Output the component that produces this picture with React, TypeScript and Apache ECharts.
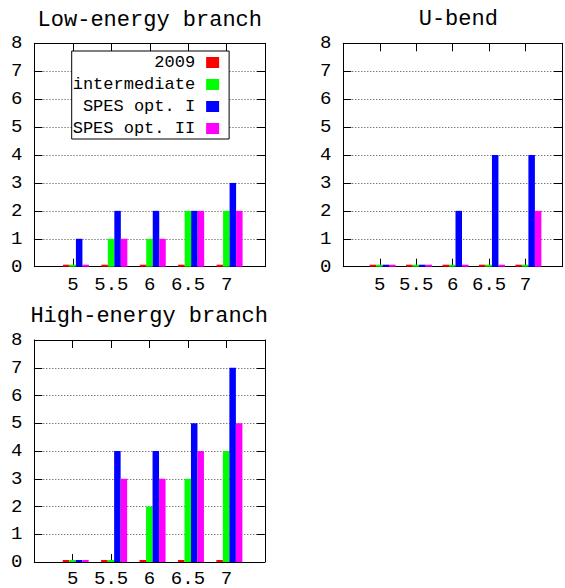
import React, { useEffect, useRef } from 'react';
import * as echarts from 'echarts';

// ---- data ----
const categories = ['5', '5.5', '6', '6.5', '7'];
const seriesNames = ['2009', 'intermediate', 'SPES opt. I', 'SPES opt. II'];
const seriesColors = ['#ff0000', '#00ff00', '#0000ff', '#ff00ff'];
const panelTitles = ['Low-energy branch', 'U-bend', 'High-energy branch'];

const lowEnergy2009 = [0, 0, 0, 0, 0];
const lowEnergyIntermediate = [0, 1, 1, 2, 2];
const lowEnergySpesI = [1, 2, 2, 2, 3];
const lowEnergySpesII = [0, 1, 1, 2, 2];

const uBend2009 = [0, 0, 0, 0, 0];
const uBendIntermediate = [0, 0, 0, 0, 0];
const uBendSpesI = [0, 0, 2, 4, 4];
const uBendSpesII = [0, 0, 0, 0, 2];

const highEnergy2009 = [0, 0, 0, 0, 0];
const highEnergyIntermediate = [0, 0, 2, 3, 4];
const highEnergySpesI = [0, 4, 4, 5, 7];
const highEnergySpesII = [0, 3, 3, 4, 5];

// ---- layout ----
const FONT = 'Liberation Mono';
const PLOT_W = 230.5;
const PLOT_H = 223.4;
const BAR_SHIFT = 0.078;

const panels = [
  {
    title: panelTitles[0],
    values: [lowEnergy2009, lowEnergyIntermediate, lowEnergySpesI, lowEnergySpesII],
    left: 34.5, top: 43.3, titleX: 149.8, titleY: 20.3, labelMargin: 9,
  },
  {
    title: panelTitles[1],
    values: [uBend2009, uBendIntermediate, uBendSpesI, uBendSpesII],
    left: 343.3, top: 43.3, titleX: 458.3, titleY: 19.5, labelMargin: 9,
  },
  {
    title: panelTitles[2],
    values: [highEnergy2009, highEnergyIntermediate, highEnergySpesI, highEnergySpesII],
    left: 34.3, top: 340, titleX: 149.2, titleY: 316.3, labelMargin: 7,
  },
];

const blackLine = { color: '#000', width: 1 };

function buildOption() {
  const grid = panels.map((p) => ({ left: p.left, top: p.top, width: PLOT_W, height: PLOT_H }));

  const xAxis = panels.flatMap((p, k) => [
    {
      gridIndex: k, type: 'value', position: 'bottom', min: -1, max: 5, interval: 1,
      axisLine: { show: true, onZero: false, lineStyle: blackLine },
      axisTick: { show: true, inside: true, length: 8, lineStyle: blackLine },
      axisLabel: {
        show: true, margin: p.labelMargin, fontFamily: FONT, fontSize: 19, color: '#000',
        formatter: (v: number) => categories[Math.round(v)] ?? '',
      },
      splitLine: { show: false },
    },
    {
      gridIndex: k, type: 'value', position: 'top', min: -1, max: 5, interval: 1,
      axisLine: { show: true, onZero: false, lineStyle: blackLine },
      axisTick: { show: true, inside: true, length: 8, lineStyle: blackLine },
      axisLabel: { show: false },
      splitLine: { show: false },
    },
    {
      gridIndex: k, type: 'value', min: -1 - BAR_SHIFT, max: 5 - BAR_SHIFT, show: false,
      splitLine: { show: false },
    },
  ]);

  const yAxis = panels.flatMap((p, k) => [
    {
      gridIndex: k, type: 'value', position: 'left', min: 0, max: 8, interval: 1,
      axisLine: { show: true, onZero: false, lineStyle: blackLine },
      axisTick: { show: true, inside: true, length: 8, lineStyle: blackLine },
      axisLabel: { margin: 12, fontFamily: FONT, fontSize: 19, color: '#000' },
      splitLine: { show: true, lineStyle: { type: [1, 2], color: '#444', width: 1 } },
    },
    {
      gridIndex: k, type: 'value', position: 'right', min: 0, max: 8, interval: 1,
      axisLine: { show: true, onZero: false, lineStyle: blackLine },
      axisTick: { show: true, inside: true, length: 8, lineStyle: blackLine },
      axisLabel: { show: false },
      splitLine: { show: false },
    },
  ]);

  const series = panels.flatMap((p, k) =>
    seriesNames.map((name, s) => ({
      type: 'bar',
      name,
      xAxisIndex: 3 * k + 2,
      yAxisIndex: 2 * k,
      data: categories.map((_, i) => [i, p.values[s][i]]),
      barWidth: 6.5,
      barGap: '0%',
      barMinHeight: 2,
      itemStyle: { color: seriesColors[s], borderWidth: 0 },
      emphasis: { disabled: true },
    }))
  );

  const title = panels.map((p) => ({
    text: p.title,
    left: p.titleX,
    top: p.titleY,
    textAlign: 'center',
    textVerticalAlign: 'middle',
    padding: 0,
    textStyle: { fontFamily: FONT, fontSize: 22, fontWeight: 'normal', color: '#000' },
  }));

  return {
    animation: false,
    backgroundColor: '#fff',
    title,
    legend: {
      data: seriesNames,
      orient: 'vertical',
      align: 'right',
      left: 71.7,
      top: 51,
      icon: 'rect',
      itemWidth: 13,
      itemHeight: 11,
      itemGap: 5,
      padding: [3, 10, 2, 1],
      backgroundColor: '#fff',
      borderColor: '#000',
      borderWidth: 1,
      borderRadius: 0,
      textStyle: { fontFamily: FONT, fontSize: 17, color: '#000', padding: [0, 6, 0, 0] },
    },
    grid,
    xAxis,
    yAxis,
    series,
  };
}

export default function App() {
  const ref = useRef<HTMLDivElement>(null);
  useEffect(() => {
    if (!ref.current) return;
    const chart = echarts.init(ref.current, null, { renderer: 'svg' });
    chart.setOption(buildOption() as any);
    return () => chart.dispose();
  }, []);
  return (
    <div
      ref={ref}
      style={{ position: 'absolute', left: 0, top: 0, width: 565, height: 588, background: '#fff' }}
    />
  );
}
